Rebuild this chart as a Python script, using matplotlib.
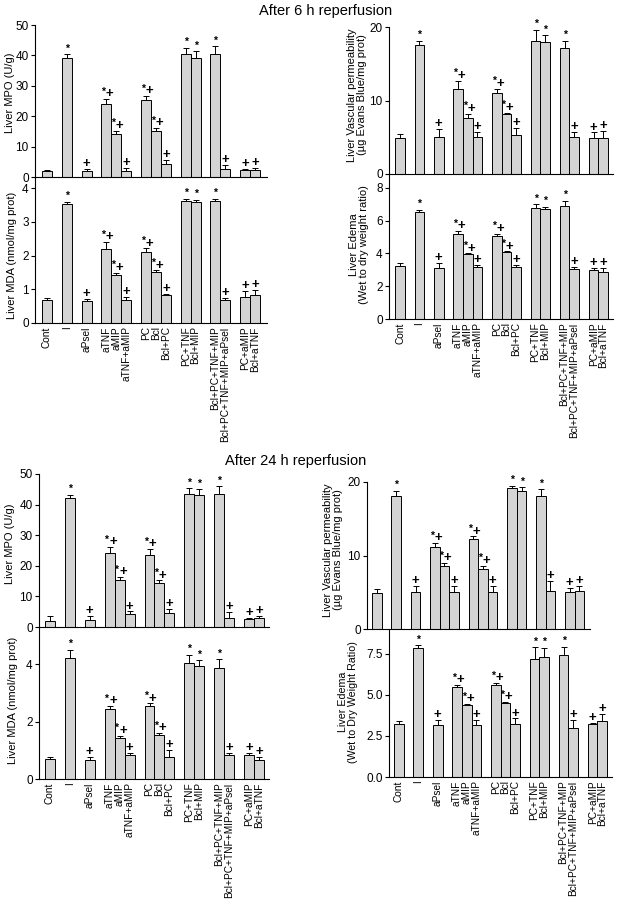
import matplotlib
matplotlib.use("Agg")
import matplotlib.pyplot as plt
import numpy as np

plt.rcParams['font.family'] = ['Liberation Sans', 'DejaVu Sans']

categories = ["Cont", "I", "aPsel", "aTNF", "aMIP", "aTNF+aMIP", "PC", "Bcl", "Bcl+PC",
              "PC+TNF", "Bcl+MIP", "Bcl+PC+TNF+MIP", "Bcl+PC+TNF+MIP+aPsel",
              "PC+aMIP", "Bcl+aTNF"]
group_pos = [0, 2, 4, 6, 7, 8, 10, 11, 12, 14, 15, 17, 18, 20, 21]

# ---- After 6 h reperfusion ----
mpo_6h = [2.0, 39.0, 2.0, 24.0, 14.1, 2.0, 25.2, 15.2, 4.3, 40.3, 39.3, 40.3, 2.7, 2.3, 2.3]
mpo_6h_err = [0.4, 1.3, 0.6, 1.7, 1.1, 0.9, 1.4, 0.8, 1.2, 2.2, 2.1, 2.7, 1.2, 0.4, 0.6]
mpo_6h_sig = ["", "*", "+", "*+", "*+", "+", "*+", "*+", "+", "*", "*", "*", "+", "+", "+"]

mda_6h = [0.69, 3.53, 0.65, 2.2, 1.42, 0.67, 2.11, 1.52, 0.82, 3.63, 3.6, 3.63, 0.67, 0.77, 0.84]
mda_6h_err = [0.06, 0.07, 0.07, 0.2, 0.07, 0.1, 0.1, 0.04, 0.05, 0.06, 0.06, 0.05, 0.08, 0.17, 0.13]
mda_6h_sig = ["", "*", "+", "*+", "*+", "+", "*+", "*+", "+", "*", "*", "*", "+", "+", "+"]

vp_6h = [4.9, 17.5, 5.0, 11.5, 7.6, 5.1, 11.0, 8.2, 5.3, 18.1, 18.0, 17.2, 5.1, 4.95, 4.86]
vp_6h_err = [0.55, 0.6, 1.1, 1.2, 0.6, 0.6, 0.6, 0.15, 1.0, 1.5, 0.9, 0.9, 0.6, 0.7, 1.0]
vp_6h_sig = ["", "*", "+", "*+", "*+", "+", "*+", "*+", "+", "*", "*", "*", "+", "+", "+"]

ed_6h = [3.22, 6.55, 3.14, 5.16, 3.96, 3.16, 5.06, 4.08, 3.18, 6.8, 6.69, 6.9, 3.06, 3.0, 2.86]
ed_6h_err = [0.2, 0.12, 0.3, 0.2, 0.04, 0.16, 0.14, 0.04, 0.14, 0.2, 0.16, 0.3, 0.12, 0.14, 0.25]
ed_6h_sig = ["", "*", "+", "*+", "*+", "+", "*+", "*+", "+", "*", "*", "*", "+", "+", "+"]

# ---- After 24 h reperfusion ----
mpo_24h = [2.1, 42.1, 2.3, 24.1, 15.3, 4.2, 23.4, 14.3, 4.5, 43.5, 43.0, 43.5, 3.0, 2.5, 2.8]
mpo_24h_err = [1.6, 1.1, 1.2, 2.0, 1.0, 0.9, 2.0, 0.9, 1.4, 1.8, 2.0, 2.5, 2.0, 0.5, 0.7]
mpo_24h_sig = ["", "*", "+", "*+", "*+", "+", "*+", "*+", "+", "*", "*", "*", "+", "+", "+"]

mda_24h = [0.7, 4.2, 0.67, 2.43, 1.41, 0.82, 2.53, 1.52, 0.78, 4.03, 3.94, 3.86, 0.84, 0.82, 0.67]
mda_24h_err = [0.05, 0.3, 0.1, 0.1, 0.1, 0.1, 0.1, 0.08, 0.23, 0.3, 0.2, 0.3, 0.08, 0.08, 0.1]
mda_24h_sig = ["", "*", "+", "*+", "*+", "+", "*+", "*+", "+", "*", "*", "*", "+", "+", "+"]

vp_24h = [4.9, 18.1, 5.0, 11.1, 8.6, 5.1, 12.2, 8.2, 5.1, 19.2, 18.8, 18.1, 5.2, 5.0, 5.2]
vp_24h_err = [0.5, 0.7, 0.8, 0.6, 0.4, 0.7, 0.4, 0.4, 0.7, 0.3, 0.5, 0.9, 1.3, 0.6, 0.7]
vp_24h_sig = ["", "*", "+", "*+", "*+", "+", "*+", "*+", "+", "*", "*", "*", "+", "+", "+"]

ed_24h = [3.22, 7.84, 3.14, 5.47, 4.37, 3.14, 5.59, 4.49, 3.2, 7.2, 7.29, 7.43, 3.0, 3.22, 3.43]
ed_24h_err = [0.2, 0.18, 0.33, 0.14, 0.06, 0.33, 0.12, 0.08, 0.37, 0.7, 0.6, 0.5, 0.47, 0.1, 0.4]
ed_24h_sig = ["", "*", "+", "*+", "*+", "+", "*+", "*+", "+", "*", "*", "*", "+", "+", "+"]

W, H = 618, 900
fig = plt.figure(figsize=(W / 100, H / 100), dpi=100)

BAR = '#d4d4d4'


def make_axes(left, top, right, bottom):
    return fig.add_axes([left / W, 1 - bottom / H, (right - left) / W, (bottom - top) / H])


def panel(rect, vals, errs, sigs, ylim, yticks, xlim, fmt=None, xlabels=False):
    ax = make_axes(*rect)
    ax.bar(group_pos, vals, width=1.0, color=BAR, edgecolor='black', linewidth=0.7, zorder=2)
    ax.errorbar(group_pos, vals, yerr=[np.zeros(len(vals)), errs], fmt='none',
                ecolor='black', elinewidth=0.7, capsize=2.5, capthick=0.7, zorder=1)
    for x, v, e, s in zip(group_pos, vals, errs, sigs):
        top = v + e
        if s == "*":
            ax.annotate("*", xy=(x, top), xytext=(0, 0.5), textcoords='offset points',
                        ha='center', va='bottom', fontsize=7.5, fontweight='bold')
        elif s == "+":
            ax.annotate("+", xy=(x, top), xytext=(0, -0.8), textcoords='offset points',
                        ha='center', va='bottom', fontsize=9.5, fontweight='bold')
        elif s == "*+":
            ax.annotate("*", xy=(x, top), xytext=(-2.3, 1.8), textcoords='offset points',
                        ha='center', va='bottom', fontsize=7.5, fontweight='bold')
            ax.annotate("+", xy=(x, top), xytext=(2.3, -0.8), textcoords='offset points',
                        ha='center', va='bottom', fontsize=9.5, fontweight='bold')
    ax.set_ylim(*ylim)
    ax.set_xlim(*xlim)
    ax.set_yticks(yticks)
    if fmt:
        ax.set_yticklabels([fmt % t for t in yticks])
    ax.spines['top'].set_visible(False)
    ax.spines['right'].set_visible(False)
    for sp in ('left', 'bottom'):
        ax.spines[sp].set_linewidth(0.8)
    ax.tick_params(axis='y', labelsize=8.5, length=3, width=0.8, pad=1.5)
    ax.set_xticks(group_pos)
    ax.tick_params(axis='x', length=0, pad=2.5)
    if xlabels:
        ax.set_xticklabels(categories, rotation=90, fontsize=7.3)
    else:
        ax.set_xticklabels([])
    ax.patch.set_alpha(0)
    return ax


# 6 h, left
panel((35, 25, 267, 177), mpo_6h, mpo_6h_err, mpo_6h_sig, (0, 50), [0, 10, 20, 30, 40, 50], (-1.2, 22.2))
panel((35, 177, 267, 323), mda_6h, mda_6h_err, mda_6h_sig, (0, 4.33), [0, 1, 2, 3, 4], (-1.2, 22.2), xlabels=True)
# 6 h, right
panel((389, 27, 613, 174), vp_6h, vp_6h_err, vp_6h_sig, (0, 20), [0, 10, 20], (-1.14, 22.0))
panel((389, 174, 613, 319), ed_6h, ed_6h_err, ed_6h_sig, (0, 8.85), [0, 2, 4, 6, 8], (-1.14, 22.0), xlabels=True)
# 24 h, left
panel((39, 474, 269, 627), mpo_24h, mpo_24h_err, mpo_24h_sig, (0, 50), [0, 10, 20, 30, 40, 50], (-1.1, 22.0))
panel((39, 627, 269, 779), mda_24h, mda_24h_err, mda_24h_sig, (0, 5.29), [0, 2, 4], (-1.1, 22.0), xlabels=True)
# 24 h, right
panel((367, 482, 590, 629), vp_24h, vp_24h_err, vp_24h_sig, (0, 20), [0, 10, 20], (-1.04, 22.1))
panel((389, 629, 612, 777), ed_24h, ed_24h_err, ed_24h_sig, (0, 9.02), [0.0, 2.5, 5.0, 7.5], (-1.03, 22.0),
      fmt="%.1f", xlabels=True)


def ftext(x, y, s, **kw):
    fig.text(x / W, 1 - y / H, s, **kw)


ftext(326, 11, "After 6 h reperfusion", ha='center', va='center', fontsize=10.5)
ftext(296, 461, "After 24 h reperfusion", ha='center', va='center', fontsize=10.5)

lab = dict(rotation=90, ha='center', va='center', fontsize=8, linespacing=1.05)
ftext(10, 93, "Liver MPO (U/g)", **lab)
ftext(12, 255, "Liver MDA (nmol/mg prot)", **lab)
ftext(357, 95, "Liver Vascular permeability\n(\u00b5g Evans Blue/mg prot)", **lab)
ftext(359, 245, "Liver Edema\n(Wet to dry weight ratio)", **lab)
ftext(10, 544, "Liver MPO (U/g)", **lab)
ftext(13, 700, "Liver MDA (nmol/mg prot)", **lab)
ftext(333, 550, "Liver Vascular permeability\n(\u00b5g Evans Blue/mg prot)", **lab)
lab2 = dict(lab)
lab2['fontsize'] = 7.7
ftext(348, 702, "Liver Edema\n(Wet to Dry Weight Ratio)", **lab2)

fig.savefig("out.png", dpi=100)
